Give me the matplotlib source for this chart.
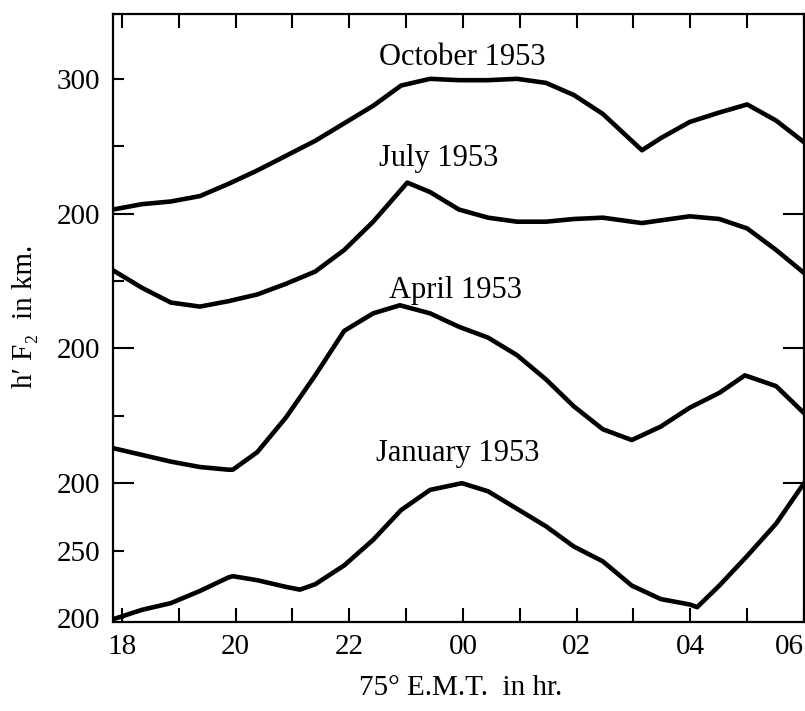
import numpy as np
import matplotlib
matplotlib.use("Agg")
import matplotlib.pyplot as plt

# h'F2 (km) against 75 deg E.M.T. (hours after midnight written as 24+)
oct_hr = [17.84, 18.35, 18.86, 19.37, 19.87, 20.38, 20.89, 21.40, 21.91, 22.42, 22.91, 23.42, 23.93,
          24.44, 24.95, 25.46, 25.95, 26.46, 26.97, 27.15, 27.48, 27.99, 28.51, 29.00, 29.51, 30.0]
oct_km = [203, 207, 209, 213, 222, 232, 243, 254, 267, 280, 295, 300, 299,
          299, 300, 297, 288, 274, 254, 247, 256, 268, 275, 281, 269, 253]

jul_hr = [17.84, 18.35, 18.86, 19.37, 19.87, 20.38, 20.89, 21.40, 21.91, 22.42, 23.02, 23.42, 23.93,
          24.44, 24.95, 25.46, 25.95, 26.46, 26.97, 27.15, 27.48, 27.99, 28.51, 29.00, 29.51, 30.0]
jul_km = [258, 245, 234, 231, 235, 240, 248, 257, 273, 294, 323, 316, 303,
          297, 294, 294, 296, 297, 294, 293, 295, 298, 296, 289, 273, 256]

apr_hr = [17.84, 18.35, 18.86, 19.37, 19.87, 19.95, 20.38, 20.89, 21.40, 21.91, 22.42, 22.89, 23.42,
          23.93, 24.44, 24.95, 25.46, 25.95, 26.46, 26.97, 27.48, 27.99, 28.51, 28.96, 29.51, 30.0]
apr_km = [226, 221, 216, 212, 210, 210, 223, 249, 280, 313, 326, 332, 326,
          316, 308, 295, 277, 257, 240, 232, 242, 256, 267, 280, 272, 252]

jan_hr = [17.84, 18.35, 18.86, 19.37, 19.87, 19.95, 20.38, 20.89, 21.13, 21.40, 21.91, 22.42, 22.91, 23.42,
          23.98, 24.44, 24.95, 25.46, 25.95, 26.46, 26.97, 27.48, 27.99, 28.12, 28.51, 29.00, 29.51, 30.0]
jan_km = [199, 206, 211, 220, 230, 231, 228, 223, 221, 225, 239, 258, 280, 295,
          300, 294, 281, 268, 253, 242, 224, 214, 210, 208, 224, 246, 270, 300]

names = ["October 1953", "July 1953", "April 1953", "January 1953"]
offsets = [300, 200, 100, 0]   # curves are stacked 100 km apart

xticks = [18, 20, 22, 24, 26, 28, 30]
xlabels = ["18", "20", "22", "00", "02", "04", "06"]

plt.rcParams['font.family'] = ['Liberation Serif', 'DejaVu Serif']

fig = plt.figure(figsize=(8.05, 7.11), dpi=100)
ax = fig.add_axes([113/805, 1-622/711, 691/805, 608/711])

series = [(oct_hr, oct_km), (jul_hr, jul_km), (apr_hr, apr_km), (jan_hr, jan_km)]
for (hr, km), off in zip(series, offsets):
    ax.plot(hr, np.array(km) + off, color="black", lw=3.3,
            solid_capstyle="round", solid_joinstyle="round")

# curve names
label_pos = [(23.98, 616), (23.58, 541), (23.86, 443), (23.90, 322)]
for name, (lx, ly) in zip(names, label_pos):
    ax.text(lx, ly, name, ha="center", va="center", fontsize=22)

ax.set_xlim(17.842, 30.0)
ax.set_ylim(197.0, 648.1)

ax.set_xticks(xticks, labels=xlabels)
ax.set_xticks(range(19, 30, 2), minor=True)
ax.set_yticks([300, 400, 500], labels=["200", "200", "200"])
ax.set_yticks([200, 250, 350, 450, 550, 600], labels=["200", "250", "", "", "", "300"], minor=True)

ax.tick_params(which="both", direction="in", top=True, width=1.5, labelsize=21, pad=9)
ax.tick_params(axis="x", which="both", length=10)
ax.tick_params(axis="y", which="major", length=15, right=True)
ax.tick_params(axis="y", which="minor", length=8)
# last hour label sits against the right edge
ax.get_xticklabels()[-1].set_horizontalalignment("right")
for s in ax.spines.values():
    s.set_linewidth(1.6)

fig.text(461/805, 1-688/711, "75° E.M.T.  in hr.", ha="center", va="center", fontsize=21)
fig.text(25/805, 1-316/711, "h′ F₂  in km.", ha="center", va="center", rotation=90, fontsize=21)

fig.savefig("out.png", dpi=100)
